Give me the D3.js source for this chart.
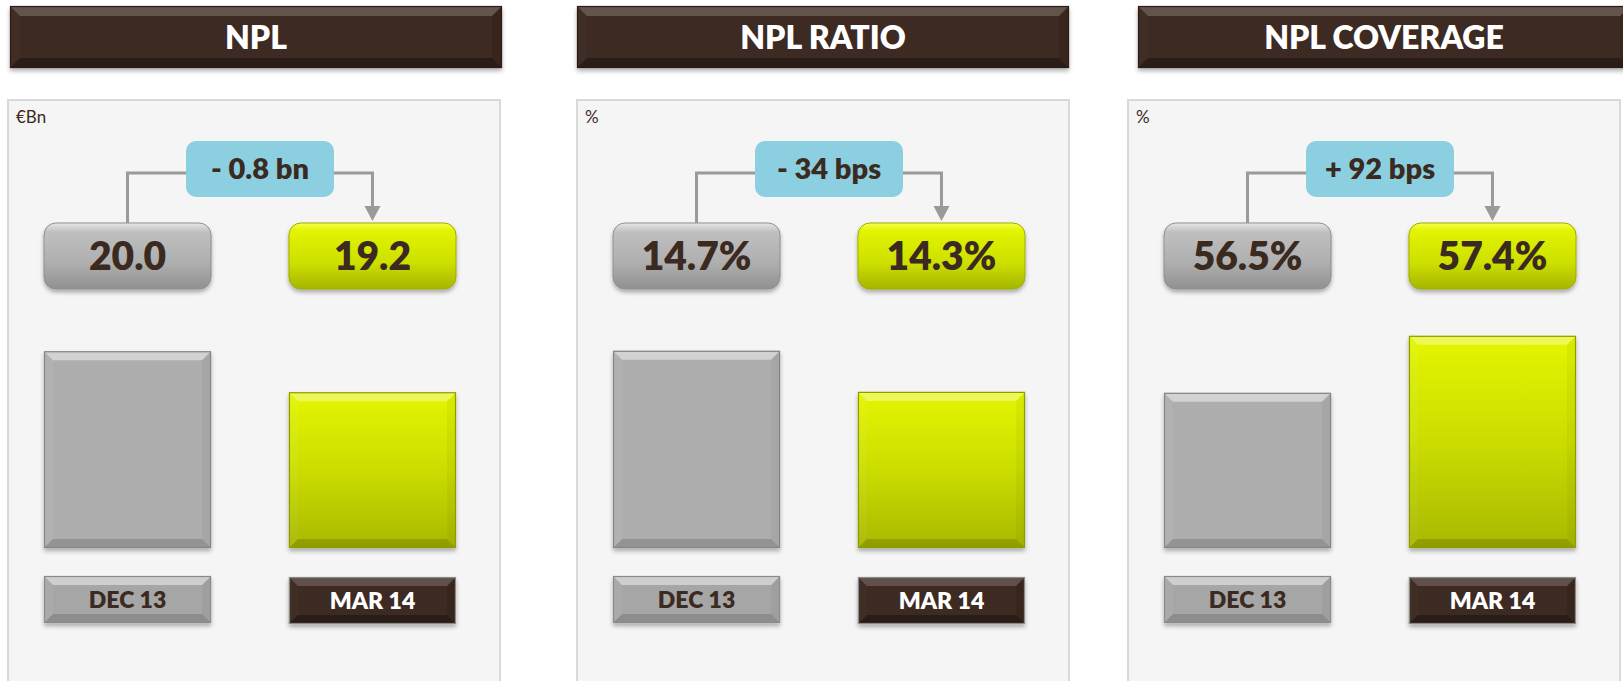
<!DOCTYPE html>
<html>
<head>
<meta charset="utf-8">
<script src="https://cdn.jsdelivr.net/npm/d3@7"></script>
<style>
    html, body { margin: 0; padding: 0; background: #ffffff; overflow: hidden; }
    svg { display: block; font-family: Lato, 'Open Sans', sans-serif; }
</style>
</head>
<body>
<svg id="chart" width="1623" height="681"></svg>
<script>
// chart data
const titles = ['NPL', 'NPL RATIO', 'NPL COVERAGE'];
const units = ['€Bn', '%', '%'];
const categories = ['DEC 13', 'MAR 14'];
const dec13 = [20.0, 14.7, 56.5];
const mar14 = [19.2, 14.3, 57.4];
const deltaLabels = ['- 0.8 bn', '- 34 bps', '+ 92 bps'];
const valueSuffix = ['', '%', '%'];
const axisMin = [16.16, 12.78, 54.05];
const axisMax = [20.61, 15.0, 57.65];

// layout
const panelX = [8, 577, 1128];
const headerX = [10, 577, 1138];
const panelW = 492;
const brown = '#3c2b20';
const textDark = '#3b2a1f';

const svg = d3.select('#chart');
const defs = svg.append('defs');

const addGradient = (id, stops) => {
    const grad = defs.append('linearGradient')
        .attr('id', id)
        .attr('x1', 0).attr('y1', 0)
        .attr('x2', 0).attr('y2', 1);
    stops.forEach(([offset, color]) => {
        grad.append('stop').attr('offset', offset).attr('stop-color', color);
    });
};

addGradient('grad-yellow-bar', [[0, '#e4f600'], [0.5, '#cbdd00'], [1, '#a8b800']]);
addGradient('grad-yellow-box', [[0, '#f6ff50'], [0.12, '#e2f400'], [0.6, '#cde000'], [1, '#a6b500']]);
addGradient('grad-gray-box', [[0, '#e6e6e6'], [0.14, '#bfbfbf'], [0.6, '#afafaf'], [1, '#909090']]);

const shadow = defs.append('filter')
    .attr('id', 'shadow')
    .attr('x', '-10%').attr('y', '-10%')
    .attr('width', '120%').attr('height', '140%');
shadow.append('feDropShadow')
    .attr('dx', 0).attr('dy', 3)
    .attr('stdDeviation', 2.2)
    .attr('flood-color', '#000')
    .attr('flood-opacity', 0.3);

// draw bevel edges over a flat rect
const addBevel = (g, x, y, w, h, b, light, dark) => {
    const faces = [
        [[x, y], [x + w, y], [x + w - b, y + b], [x + b, y + b], '#fff', light],
        [[x, y], [x + b, y + b], [x + b, y + h - b], [x, y + h], '#fff', light * 0.12],
        [[x + w, y], [x + w, y + h], [x + w - b, y + h - b], [x + w - b, y + b], '#000', dark * 0.25],
        [[x, y + h], [x + b, y + h - b], [x + w - b, y + h - b], [x + w, y + h], '#000', dark],
    ];
    faces.forEach((f) => {
        g.append('polygon')
            .attr('points', f.slice(0, 4).map(p => p.join(',')).join(' '))
            .attr('fill', f[4])
            .attr('fill-opacity', f[5]);
    });
};

const addBeveledRect = (g, x, y, w, h, opts) => {
    const group = g.append('g').attr('filter', 'url(#shadow)');
    group.append('rect')
        .attr('x', x).attr('y', y)
        .attr('width', w).attr('height', h)
        .attr('fill', opts.fill);
    addBevel(group, x, y, w, h, opts.bevel, opts.light, opts.dark);
    group.append('rect')
        .attr('x', x + 0.5).attr('y', y + 0.5)
        .attr('width', w - 1).attr('height', h - 1)
        .attr('fill', 'none')
        .attr('stroke', opts.stroke)
        .attr('stroke-width', 1.2);
    return group;
};

const drawPanel = (i) => {
    const px = panelX[i];
    const g = svg.append('g').attr('class', 'panel');

    // header bar
    const hx = headerX[i];
    addBeveledRect(g, hx, 6, panelW, 62, {
        fill: brown, bevel: 10, light: 0.2, dark: 0.3, stroke: '#2a1d15',
    });
    g.append('text')
        .attr('x', hx + panelW / 2)
        .attr('y', 49)
        .attr('text-anchor', 'middle')
        .attr('fill', '#ffffff')
        .attr('font-weight', 800)
        .attr('font-size', 32)
        .text(titles[i]);

    // panel background
    g.append('rect')
        .attr('x', px).attr('y', 100)
        .attr('width', panelW).attr('height', 600)
        .attr('fill', '#f5f5f5')
        .attr('stroke', '#d9d9d9')
        .attr('stroke-width', 2);

    g.append('text')
        .attr('x', px + 8)
        .attr('y', 123)
        .attr('fill', textDark)
        .attr('font-size', 17)
        .text(units[i]);

    // scales
    const xFun = d3.scaleBand()
        .domain(categories)
        .range([px + 36, px + 448])
        .paddingInner(0.318)
        .paddingOuter(0);

    const yFun = d3.scaleLinear()
        .domain([axisMin[i], axisMax[i]])
        .range([548, 320]);

    const values = [dec13[i], mar14[i]];
    const items = categories.map((c, k) => ({x: c, y: values[k], first: k === 0}));

    // bars
    items.forEach((d) => {
        const bx = xFun(d.x);
        const by = yFun(d.y);
        addBeveledRect(g, bx, by, xFun.bandwidth(), yFun(axisMin[i]) - by, d.first
            ? {fill: '#adadad', bevel: 9, light: 0.45, dark: 0.15, stroke: '#858585'}
            : {fill: 'url(#grad-yellow-bar)', bevel: 9, light: 0.35, dark: 0.15, stroke: '#8f9c00'});
    });

    // category labels
    items.forEach((d) => {
        const lx = xFun(d.x);
        const ly = d.first ? 576 : 577;
        addBeveledRect(g, lx, ly, xFun.bandwidth(), 47, d.first
            ? {fill: '#a6a6a6', bevel: 9, light: 0.45, dark: 0.15, stroke: '#8a8a8a'}
            : {fill: brown, bevel: 9, light: 0.18, dark: 0.3, stroke: '#8a8a8a'});
        g.append('text')
            .attr('x', lx + xFun.bandwidth() / 2)
            .attr('y', ly + 32)
            .attr('text-anchor', 'middle')
            .attr('fill', d.first ? textDark : '#ffffff')
            .attr('font-weight', 800)
            .attr('font-size', 23)
            .text(d.x);
    });

    // value boxes
    items.forEach((d) => {
        const vx = xFun(d.x);
        g.append('rect')
            .attr('x', vx).attr('y', 223)
            .attr('width', xFun.bandwidth()).attr('height', 66)
            .attr('rx', 12).attr('ry', 12)
            .attr('fill', d.first ? 'url(#grad-gray-box)' : 'url(#grad-yellow-box)')
            .attr('stroke', d.first ? '#8f8f8f' : '#a0ad00')
            .attr('stroke-width', 1)
            .attr('filter', 'url(#shadow)');
        g.append('text')
            .attr('x', vx + xFun.bandwidth() / 2)
            .attr('y', 270)
            .attr('text-anchor', 'middle')
            .attr('fill', textDark)
            .attr('font-weight', 800)
            .attr('font-size', 39)
            .text(d3.format('.1f')(d.y) + valueSuffix[i]);
    });

    // connector with arrow
    const c0 = xFun(categories[0]) + xFun.bandwidth() / 2;
    const c1 = xFun(categories[1]) + xFun.bandwidth() / 2;
    g.append('path')
        .attr('d', `M${c0},223 V173 H${c1} V208`)
        .attr('fill', 'none')
        .attr('stroke', '#9a9a9a')
        .attr('stroke-width', 3);
    g.append('path')
        .attr('d', `M${c1 - 8},206 L${c1 + 8},206 L${c1},221 Z`)
        .attr('fill', '#9a9a9a');

    // delta box
    const dw = 148;
    const dcx = px + 252;
    g.append('rect')
        .attr('x', dcx - dw / 2).attr('y', 141)
        .attr('width', dw).attr('height', 56)
        .attr('rx', 10).attr('ry', 10)
        .attr('fill', '#8bcfe0');
    g.append('text')
        .attr('x', dcx)
        .attr('y', 179)
        .attr('text-anchor', 'middle')
        .attr('fill', textDark)
        .attr('font-weight', 800)
        .attr('font-size', 29)
        .text(deltaLabels[i]);
};

titles.forEach((t, i) => drawPanel(i));
</script>
</body>
</html>
